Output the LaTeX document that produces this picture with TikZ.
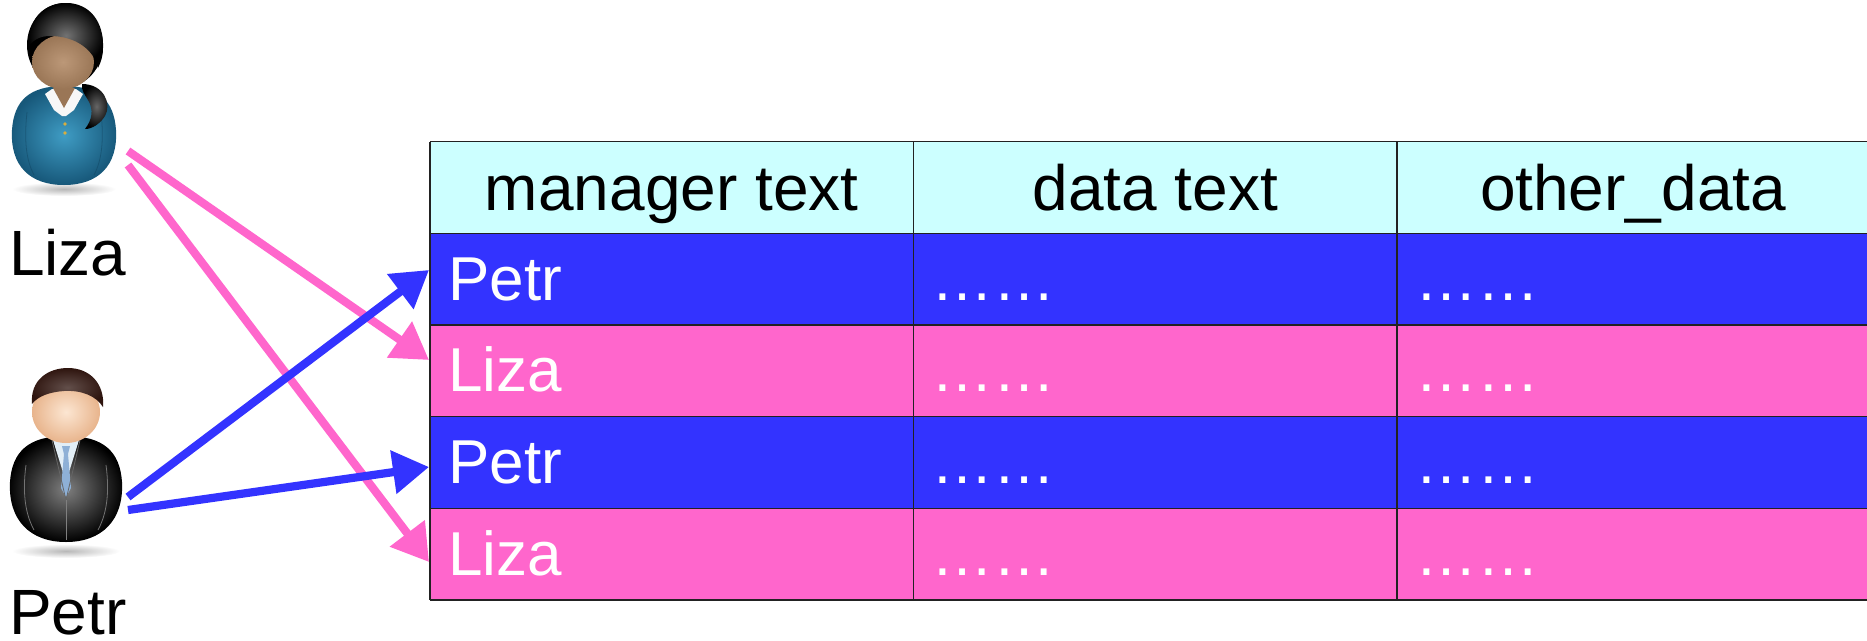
\documentclass[tikz,border=0pt]{standalone}
\usepackage{fontspec}
\setmainfont{Liberation Sans}
\usetikzlibrary{arrows.meta}
\definecolor{headcyan}{HTML}{CCFFFF}
\definecolor{rowblue}{HTML}{3333FF}
\definecolor{rowpink}{HTML}{FF66CC}
\definecolor{gridline}{HTML}{222222}
\definecolor{tealdark}{HTML}{17587A}
\definecolor{teallight}{HTML}{3F9CC4}
\definecolor{skinbrown}{HTML}{9A7656}
\definecolor{skinbrownlt}{HTML}{BC9878}
\definecolor{skinpeach}{HTML}{E8B48C}
\definecolor{skinpeachlt}{HTML}{FCE6D2}
\definecolor{hairbrown}{HTML}{2E140E}
\definecolor{tieblue}{HTML}{8EB0D6}
\definecolor{shirtblue}{HTML}{E2EEF6}
\definecolor{buttongold}{HTML}{D8AE3E}
\tikzset{
  gridrule/.style={draw=gridline, line width=1.3pt},
  headtext/.style={inner sep=0pt, anchor=base, text=black, font=\fontsize{64}{70}\selectfont},
  celltext/.style={inner sep=0pt, anchor=base west, text=white, font=\fontsize{62}{68}\selectfont},
  nametext/.style={inner sep=0pt, anchor=base west, text=black, font=\fontsize{64}{70}\selectfont},
  linkarrow/.style={line width=8.2pt, -{Triangle[length=36pt,width=42pt]}},
  pinklink/.style={linkarrow, draw=rowpink, fill=rowpink},
  bluelink/.style={linkarrow, draw=rowblue, fill=rowblue},
}
\begin{document}
\begin{tikzpicture}[x=1pt,y=-1pt]
\useasboundingbox (0,0) rectangle (1867,640);
\clip (0,0) rectangle (1867,640);

% ---------- Liza ----------
\shade[inner color=black!28, outer color=white] (64,189) ellipse (52 and 7);
% body
\shade[inner color=teallight, outer color=tealdark]
  (64,86) .. controls (30,86) and (14,100) .. (12,130)
  .. controls (10,166) and (30,185) .. (64,185)
  .. controls (98,185) and (118,166) .. (116,130)
  .. controls (114,100) and (98,86) .. (64,86) -- cycle;
\draw[tealdark!80!black, line width=0.8pt, opacity=0.5] (27,112) .. controls (24,140) and (26,160) .. (34,175);
\draw[tealdark!80!black, line width=0.8pt, opacity=0.5] (101,112) .. controls (104,140) and (102,160) .. (94,175);
% collar and neck
\fill[white!94!gray] (45,94) -- (52,89) -- (76,89) -- (83,94) -- (74,110) -- (66,116) -- (62,116) -- (54,110) -- cycle;
\fill[skinbrown] (53,88) -- (64,108) -- (75,88) -- cycle;
\fill[buttongold] (65,124) circle (1.9);
\fill[buttongold] (65,133) circle (1.9);
% ponytail
\shade[inner color=black!60, outer color=black]
  (82,84) .. controls (104,84) and (112,104) .. (105,116)
  .. controls (100,124) and (92,129) .. (85,129)
  .. controls (92,120) and (94,110) .. (88,100)
  .. controls (85,95) and (81,90) .. (82,84) -- cycle;
% head
\fill[black] (65,45) ellipse (38 and 42);
\shade[inner color=skinbrownlt, outer color=skinbrown] (63,62) ellipse (31 and 27);
\shade[inner color=black!55, outer color=black]
  (28,48) .. controls (28,14) and (48,3) .. (66,3)
  .. controls (90,3) and (104,22) .. (103,48)
  .. controls (103,56) and (101,62) .. (98,68)
  .. controls (94,50) and (76,36) .. (50,36)
  .. controls (40,36) and (32,40) .. (28,48) -- cycle;

% ---------- Petr ----------
\shade[inner color=black!28, outer color=white] (66,551) ellipse (54 and 7);
% body
\shade[inner color=black!50, outer color=black]
  (66,436) .. controls (28,436) and (12,452) .. (10,482)
  .. controls (8,520) and (30,542) .. (66,542)
  .. controls (102,542) and (124,520) .. (122,482)
  .. controls (120,452) and (104,436) .. (66,436) -- cycle;
\draw[black!55, line width=0.8pt] (26,465) .. controls (22,495) and (26,515) .. (34,530);
\draw[black!55, line width=0.8pt] (106,465) .. controls (110,495) and (106,515) .. (98,530);
% shirt, tie, lapels
\fill[shirtblue] (53,440) -- (66,482) -- (79,440) -- cycle;
\fill[tieblue] (62,446) -- (70,446) -- (68,454) -- (64,454) -- cycle;
\fill[tieblue] (64,454) -- (61,488) -- (66,497) -- (71,488) -- (68,454) -- cycle;
\draw[black!60, line width=0.8pt] (52,440) -- (66,500) -- (80,440);
\draw[black!50, line width=0.6pt] (66,500) -- (66,540);
% head
\shade[inner color=skinpeachlt, outer color=skinpeach] (66,412) ellipse (34 and 31);
\shade[inner color=hairbrown!75!white, outer color=hairbrown]
  (32,404) .. controls (30,380) and (48,368) .. (68,368)
  .. controls (90,368) and (105,384) .. (103,407)
  .. controls (96,396) and (82,390) .. (64,391)
  .. controls (50,392) and (38,396) .. (32,404) -- cycle;

% ---------- person labels ----------
\node[nametext] (lizalabel) at (9,275) {Liza};
\node[nametext] (petrlabel) at (9,634) {Petr};

% ---------- table ----------
\fill[headcyan] (430,141.7) rectangle (1880,233.3);
\fill[rowblue]  (430,233.3) rectangle (1880,325);
\fill[rowpink]  (430,325)   rectangle (1880,416.7);
\fill[rowblue]  (430,416.7) rectangle (1880,508.3);
\fill[rowpink]  (430,508.3) rectangle (1880,600);
\foreach \yy in {141.7,233.3,325,416.7,508.3,600}
  \draw[gridrule] (430,\yy) -- (1880,\yy);
\foreach \xx in {430,913.3,1397}
  \draw[gridrule] (\xx,141.7) -- (\xx,600);

\node[headtext] (head1) at (671.7,210) {manager text};
\node[headtext] (head2) at (1155.2,210) {data text};
\node[headtext] (head3) at (1633,210) {other\_data};

\node[celltext] (name1) at (448,300) {Petr};
\node[celltext] (name2) at (448,391.7) {Liza};
\node[celltext] (name3) at (448,483.3) {Petr};
\node[celltext] (name4) at (448,575) {Liza};
\foreach \yy [count=\r] in {300,391.7,483.3,575}{
  \node[celltext] (data\r) at (931,\yy) {……};
  \node[celltext] (other\r) at (1415,\yy) {……};
}

% ---------- links ----------
\coordinate (lizaout1) at (128,151);
\coordinate (lizaout2) at (128,165);
\coordinate (petrout1) at (128,497);
\coordinate (petrout2) at (128,510);
\coordinate (row1in) at (429,270);
\coordinate (row2in) at (429,360);
\coordinate (row3in) at (429,467);
\coordinate (row4in) at (429,562);
\draw[pinklink] (lizaout1) -- (row2in);
\draw[pinklink] (lizaout2) -- (row4in);
\draw[bluelink] (petrout1) -- (row1in);
\draw[bluelink] (petrout2) -- (row3in);
\end{tikzpicture}
\end{document}
